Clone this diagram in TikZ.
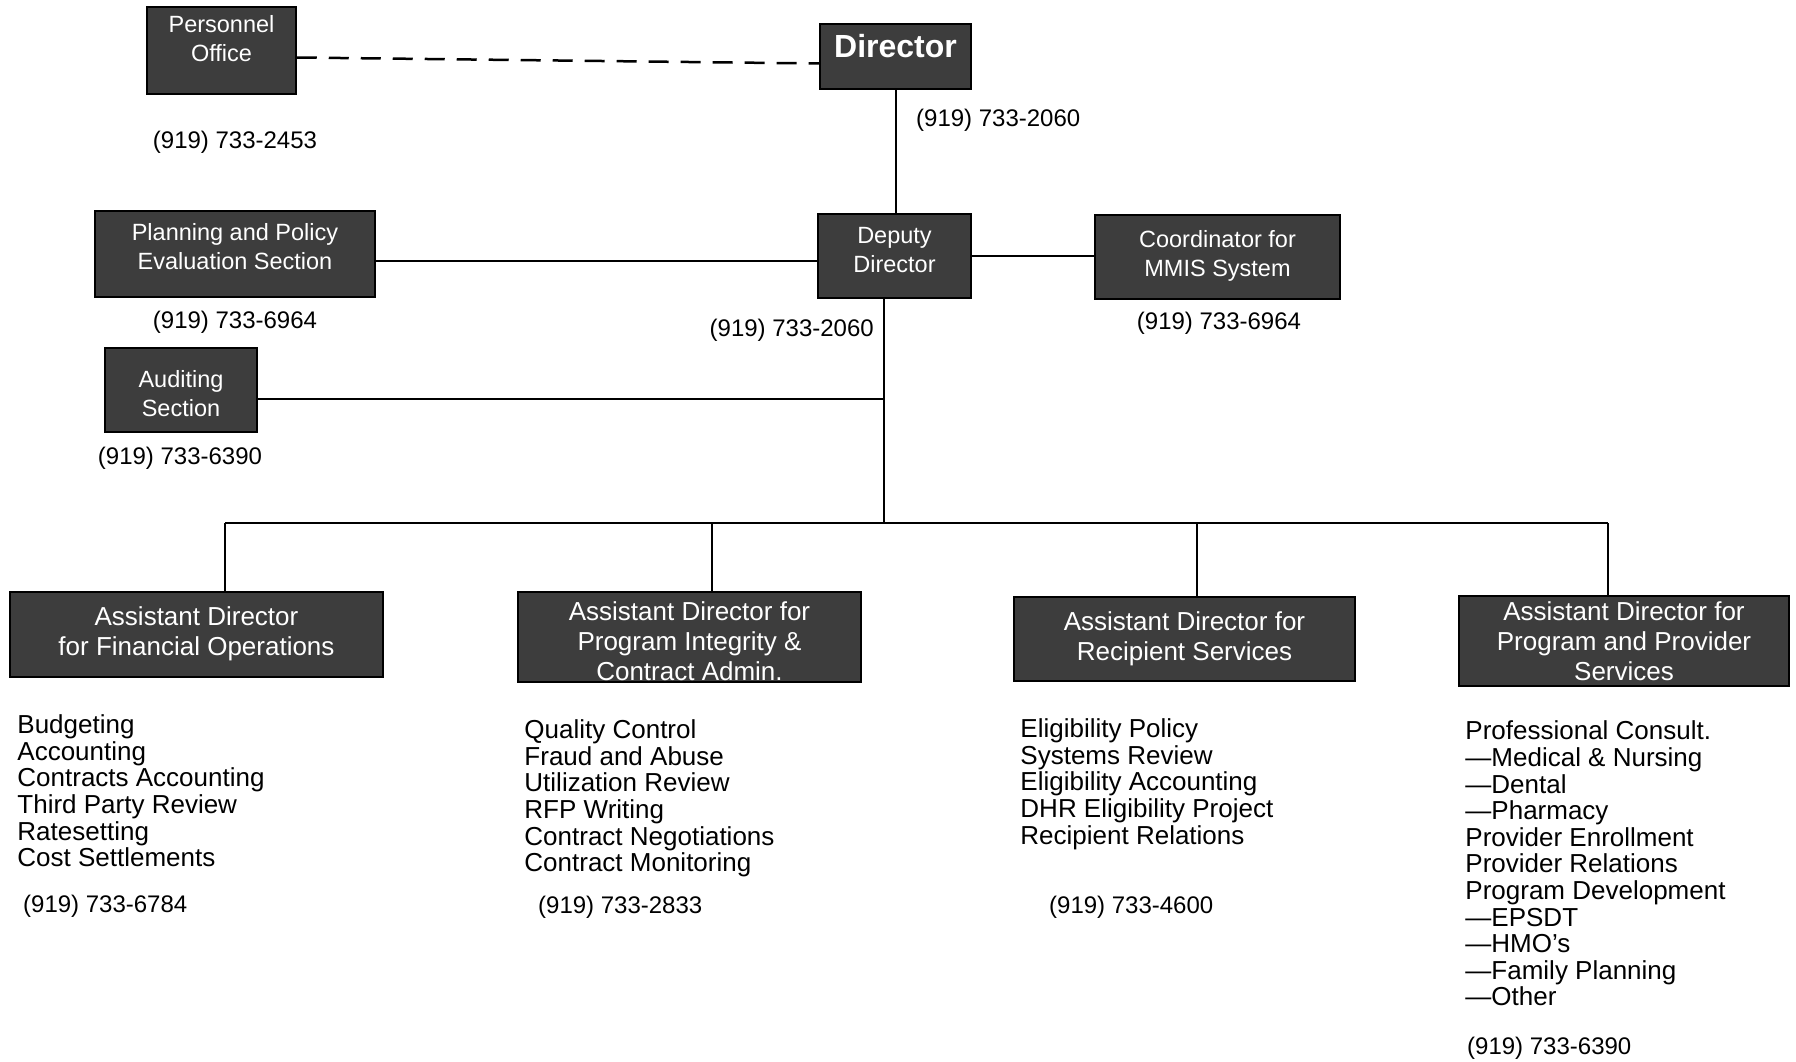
\documentclass[tikz,border=0pt]{standalone}
\usepackage{fontspec}
\setmainfont{Liberation Sans}
\usetikzlibrary{positioning}

% box text raised (or lowered) inside its box
\newcommand{\lifttext}[2]{\raisebox{#1}[\height][\depth]{\begin{tabular}{@{}c@{}}#2\end{tabular}}}

\begin{document}
\begin{tikzpicture}[x=1pt, y=-1pt,
        office/.style={draw=black, line width=1.5pt, fill=black!76, text=white,
            align=center, inner sep=0pt, font=\fontsize{23.5}{29}\selectfont},
        asst/.style={office, font=\fontsize{26}{30}\selectfont},
        phone/.style={inner sep=0pt, font=\fontsize{24}{28}\selectfont},
        duties/.style={inner sep=0pt, align=left, font=\fontsize{26}{26.6}\selectfont},
        link/.style={line width=2pt}]
    \useasboundingbox (0,0) rectangle (1796,1062);

    % top level
    \node[office, minimum width=149pt, minimum height=87pt] (pers) at (221.5,50.5) {\lifttext{9.5pt}{Personnel\\Office}};
    \node[office, minimum width=151pt, minimum height=65pt,
        font=\bfseries\fontsize{32}{36}\selectfont] (dir) at (895.5,56.5) {\lifttext{6.5pt}{Director}};
    \node[office, minimum width=153pt, minimum height=84pt] (dep) at (894.5,256) {\lifttext{4pt}{Deputy\\Director}};
    \node[office, minimum width=280pt, minimum height=86pt] (plan) at (235,254) {\lifttext{5pt}{Planning and Policy\\Evaluation Section}};
    \node[office, minimum width=245pt, minimum height=84pt] (coord) at (1217.5,257) {\lifttext{1pt}{Coordinator for\\MMIS System}};
    \node[office, minimum width=152pt, minimum height=84pt] (aud) at (181,390) {\lifttext{-6pt}{Auditing\\Section}};

    \node[phone] (ph2453) at (235,142) {(919) 733-2453};
    \node[phone, anchor=west] (ph2060a) at (916,120) {(919) 733-2060};
    \node[phone] (ph6964a) at (235,322) {(919) 733-6964};
    \node[phone, anchor=east] (ph2060b) at (874,330) {(919) 733-2060};
    \node[phone] (ph6964b) at (1219,323) {(919) 733-6964};
    \node[phone] (ph6390a) at (180,458) {(919) 733-6390};

    % assistant directors
    \node[asst, minimum width=373pt, minimum height=85pt] (fin) at (196.5,634.5) {\lifttext{0pt}{Assistant Director\\for Financial Operations}};
    \node[asst, minimum width=343pt, minimum height=88pt] (integ) at (689.5,637) {\lifttext{-7.5pt}{Assistant Director for\\Program Integrity \&\\Contract Admin.}};
    \node[asst, minimum width=341pt, minimum height=84pt] (recip) at (1184.5,639) {\lifttext{0pt}{Assistant Director for\\Recipient Services}};
    \node[asst, minimum width=330pt, minimum height=88pt] (prov) at (1624,641) {\lifttext{-3.5pt}{Assistant Director for\\Program and Provider\\Services}};

    \node[duties, below right=37pt and 8pt of fin.south west] (finlist)
        {Budgeting\\Accounting\\Contracts Accounting\\Third Party Review\\Ratesetting\\Cost Settlements};
    \node[duties, below right=37pt and 7pt of integ.south west] (integlist)
        {Quality Control\\Fraud and Abuse\\Utilization Review\\RFP Writing\\Contract Negotiations\\Contract Monitoring};
    \node[duties, below right=37pt and 7pt of recip.south west] (reciplist)
        {Eligibility Policy\\Systems Review\\Eligibility Accounting\\DHR Eligibility Project\\Recipient Relations};
    \node[duties, below right=34pt and 7pt of prov.south west] (provlist)
        {Professional Consult.\\—Medical \& Nursing\\—Dental\\—Pharmacy\\Provider Enrollment\\Provider Relations\\Program Development\\—EPSDT\\—HMO’s\\—Family Planning\\—Other};

    \node[phone, anchor=west] (ph6784) at (23,906) {(919) 733-6784};
    \node[phone, anchor=west] (ph2833) at (538,907) {(919) 733-2833};
    \node[phone, anchor=west] (ph4600) at (1049,907) {(919) 733-4600};
    \node[phone, anchor=west] (ph6390b) at (1467,1048) {(919) 733-6390};

    % connectors
    \coordinate (hub) at (884,523);
    \coordinate (busL) at (225,523);
    \coordinate (busB) at (712,523);
    \coordinate (busC) at (1197,523);
    \coordinate (busR) at (1608,523);

    \draw[line width=2.5pt, dash pattern=on 20pt off 12pt] ([yshift=-7pt]pers.east) -- ([yshift=-7pt]dir.west);
    \draw[link] (dir.south) -- (dir.south |- dep.north);
    \draw[link] ([yshift=-7pt]plan.east) -- ([yshift=-7pt]plan.east -| dep.west);
    \draw[link] (dep.east) -- (dep.east -| coord.west);
    \draw[link] (dep.south -| hub) -- (hub);
    \draw[link] ([yshift=-9pt]aud.east) -- ([yshift=-9pt]aud.east -| hub);
    \draw[link] (busL) -- (busR);
    \draw[link] (busL) -- (busL |- fin.north);
    \draw[link] (busB) -- (busB |- integ.north);
    \draw[link] (busC) -- (busC |- recip.north);
    \draw[link] (busR) -- (busR |- prov.north);
\end{tikzpicture}
\end{document}
